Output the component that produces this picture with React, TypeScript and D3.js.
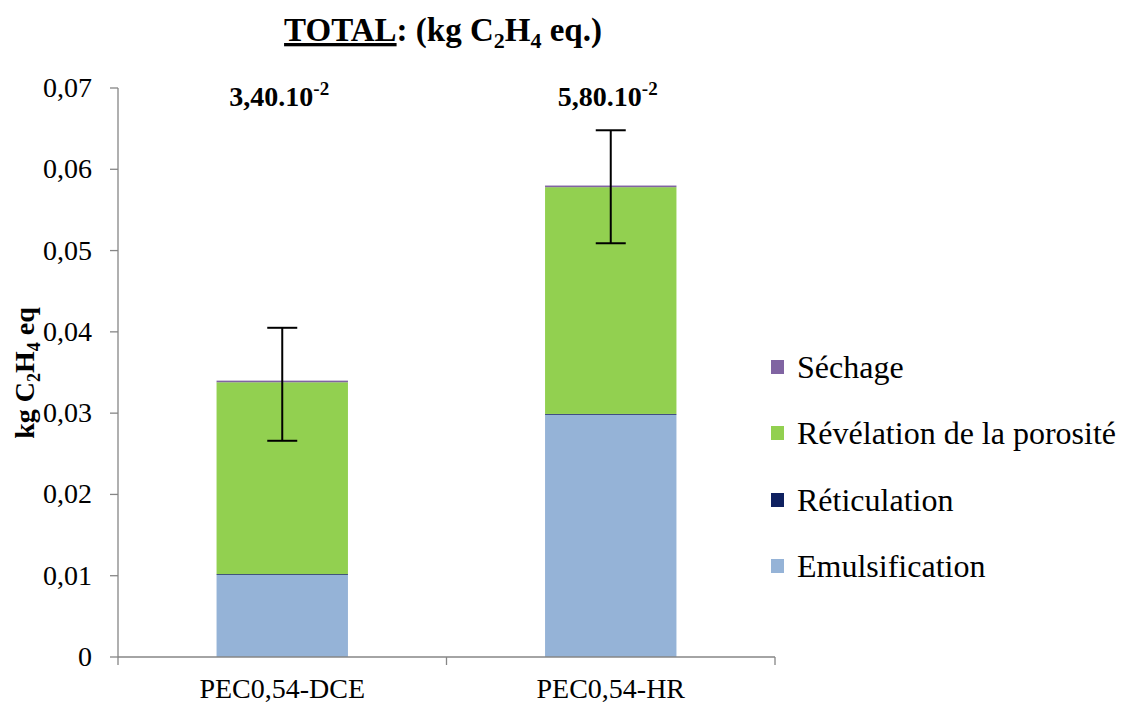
import React from "react";
import * as d3 from "d3";

const categories = ["PEC0,54-DCE", "PEC0,54-HR"];
const seriesNames = ["Emulsification", "Réticulation", "Révélation de la porosité", "Séchage"];
const emulsification = [0.0101, 0.0298];
const reticulation = [0.0001, 0.0001];
const revelation = [0.0236, 0.0279];
const sechage = [0.0002, 0.0002];
const errLow = [0.0266, 0.0509];
const errHigh = [0.0405, 0.0648];
const totalLabels = ["3,40.10", "5,80.10"];
const yTicks = [0, 0.01, 0.02, 0.03, 0.04, 0.05, 0.06, 0.07];
const colors = ["#95B3D7", "#0F2160", "#92D050", "#8064A2"];

const W = 1122, H = 704;
const FONT = "'Liberation Serif', 'Times New Roman', serif";

export default function App() {
  const left = 118, right = 775, top = 88, bottom = 657;
  const x = d3.scaleBand().domain(categories).range([left, right]).paddingInner(0.6).paddingOuter(0.3);
  const y = d3.scaleLinear().domain([0, 0.07]).range([bottom, top]);
  const data = categories.map((c, i) => ({
    cat: c,
    Emulsification: emulsification[i],
    "Réticulation": reticulation[i],
    "Révélation de la porosité": revelation[i],
    "Séchage": sechage[i],
  }));
  const stack = d3.stack<any>().keys(seriesNames)(data);
  const band = d3.scaleBand().domain(categories).range([left, right]);
  const legendY = [566, 500, 433, 367];

  return (
    <svg width={W} height={H} style={{ position: "absolute", left: 0, top: 0, background: "#fff" }}>
      {/* title */}
      <text x={443} y={41} textAnchor="middle" fontFamily={FONT} fontWeight="bold" fontSize={33}>
        <tspan textDecoration="underline">TOTAL</tspan>
        <tspan>: (kg C</tspan>
        <tspan fontSize={22} dy={7}>2</tspan>
        <tspan dy={-7}>H</tspan>
        <tspan fontSize={22} dy={7}>4</tspan>
        <tspan dy={-7}> eq.)</tspan>
      </text>
      {/* bars */}
      {stack.map((s, si) => (
        <g key={si} fill={colors[si]}>
          {s.map((d, i) => (
            <rect key={i} x={x(categories[i])!} width={x.bandwidth()} y={y(d[1])} height={y(d[0]) - y(d[1])} />
          ))}
        </g>
      ))}
      {/* error bars */}
      {categories.map((c, i) => {
        const cx = x(c)! + x.bandwidth() / 2;
        return (
          <g key={c} stroke="#000" strokeWidth={2}>
            <line x1={cx} x2={cx} y1={y(errHigh[i])} y2={y(errLow[i])} />
            <line x1={cx - 15} x2={cx + 15} y1={y(errHigh[i])} y2={y(errHigh[i])} />
            <line x1={cx - 15} x2={cx + 15} y1={y(errLow[i])} y2={y(errLow[i])} />
          </g>
        );
      })}
      {/* total labels */}
      {categories.map((c, i) => {
        const cx = x(c)! + x.bandwidth() / 2;
        return (
          <text key={c} x={cx - 3} y={106} textAnchor="middle" fontFamily={FONT} fontWeight="bold" fontSize={28}>
            {totalLabels[i]}
            <tspan fontSize={19} dy={-11}>-2</tspan>
          </text>
        );
      })}
      {/* y axis */}
      <line x1={left} x2={left} y1={top} y2={bottom} stroke="#868686" strokeWidth={1.3} />
      {yTicks.map((t) => (
        <g key={t}>
          <line x1={left - 8} x2={left} y1={y(t)} y2={y(t)} stroke="#868686" strokeWidth={1.3} />
          <text x={92} y={y(t) + 9} textAnchor="end" fontFamily={FONT} fontSize={28}>
            {t === 0 ? "0" : t.toFixed(2).replace(".", ",")}
          </text>
        </g>
      ))}
      {/* x axis */}
      <line x1={left} x2={right} y1={bottom} y2={bottom} stroke="#868686" strokeWidth={1.3} />
      {[left, ...categories.map((c) => band(c)! + band.bandwidth())].map((t, i) => (
        <line key={i} x1={t} x2={t} y1={bottom} y2={bottom + 8} stroke="#868686" strokeWidth={1.3} />
      ))}
      {categories.map((c) => (
        <text key={c} x={band(c)! + band.bandwidth() / 2} y={698} textAnchor="middle" fontFamily={FONT} fontSize={28}>
          {c}
        </text>
      ))}
      {/* y label */}
      <text transform={`translate(34, 373) rotate(-90)`} textAnchor="middle" fontFamily={FONT} fontWeight="bold" fontSize={28}>
        kg C<tspan fontSize={18} dy={6}>2</tspan>
        <tspan dy={-6}>H</tspan>
        <tspan fontSize={18} dy={6}>4</tspan>
        <tspan dy={-6}> eq</tspan>
      </text>
      {/* legend */}
      {seriesNames.map((n, i) => (
        <g key={n}>
          <rect x={771} y={legendY[i] - 7} width={13} height={14} fill={colors[i]} />
          <text x={797} y={legendY[i] + 11} fontFamily={FONT} fontSize={32}>{n}</text>
        </g>
      ))}
    </svg>
  );
}
